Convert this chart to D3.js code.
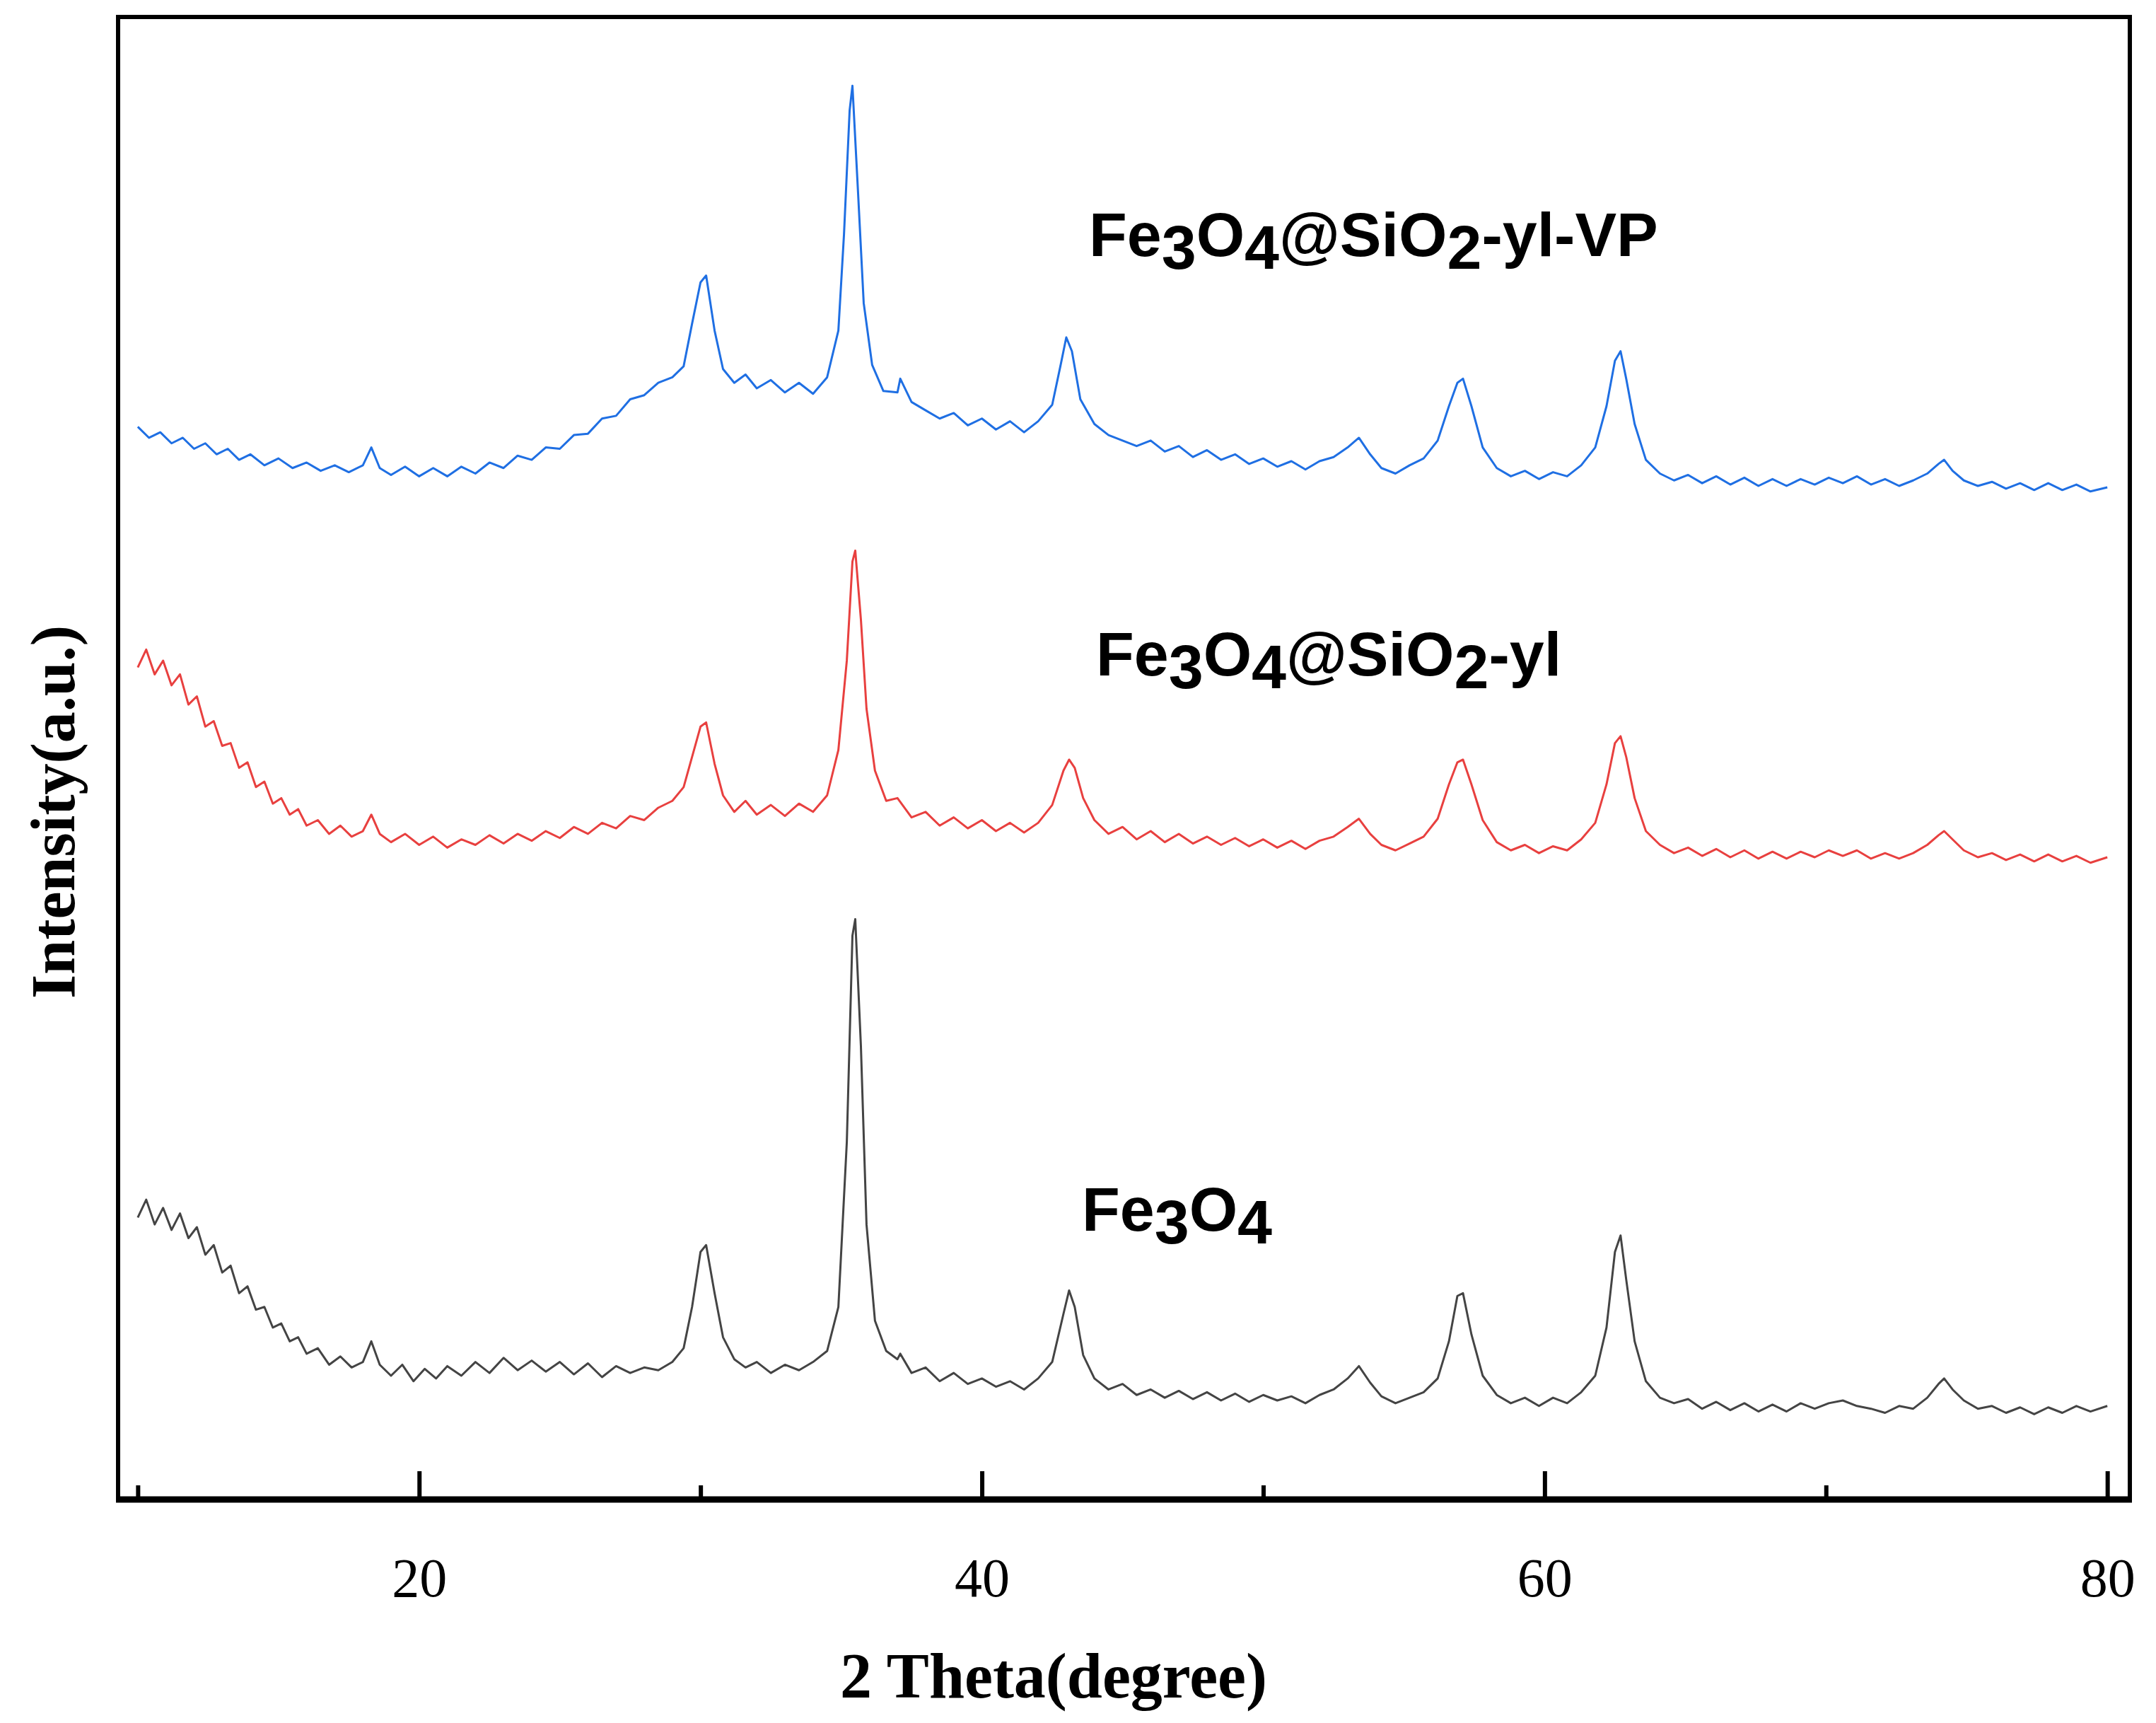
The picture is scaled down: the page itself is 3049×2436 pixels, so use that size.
<!DOCTYPE html>
<html><head><meta charset="utf-8">
<script src="https://cdn.jsdelivr.net/npm/d3@7"></script>
<style>body{margin:0;background:#fff}</style></head>
<body><svg id="c" width="3049" height="2436"></svg>
<script>
const xTicksMajor=[20,40,60,80];
const xTicksMinor=[10,30,50,70];
const fe3o4=[[10,205],[10.3,218],[10.6,200],[10.9,212],[11.2,196],[11.5,208],[11.8,190],[12.1,198],[12.4,178],[12.7,185],[13,165],[13.3,170],[13.6,150],[13.9,155],[14.2,138],[14.5,140],[14.8,125],[15.1,128],[15.4,115],[15.7,118],[16,106],[16.4,110],[16.8,98],[17.2,104],[17.6,96],[18,100],[18.3,115],[18.6,98],[19,90],[19.4,98],[19.8,86],[20.2,95],[20.6,88],[21,97],[21.5,90],[22,100],[22.5,92],[23,103],[23.5,94],[24,101],[24.5,93],[25,100],[25.5,91],[26,99],[26.5,89],[27,97],[27.5,92],[28,96],[28.5,94],[29,100],[29.4,110],[29.7,140],[30,180],[30.2,185],[30.5,150],[30.8,118],[31.2,102],[31.6,96],[32,100],[32.5,92],[33,98],[33.5,94],[34,100],[34.5,108],[34.9,140],[35.2,260],[35.4,410],[35.5,422],[35.7,330],[35.9,200],[36.2,130],[36.6,108],[37,102],[37.1,106],[37.5,92],[38,96],[38.5,86],[39,92],[39.5,84],[40,88],[40.5,82],[41,86],[41.5,80],[42,88],[42.5,100],[42.9,135],[43.1,152],[43.3,140],[43.6,105],[44,88],[44.5,80],[45,84],[45.5,76],[46,80],[46.5,74],[47,79],[47.5,73],[48,78],[48.5,72],[49,77],[49.5,71],[50,76],[50.5,72],[51,75],[51.5,70],[52,76],[52.5,80],[53,88],[53.4,97],[53.8,85],[54.2,75],[54.7,70],[55.2,74],[55.7,78],[56.2,88],[56.6,115],[56.9,148],[57.1,150],[57.4,120],[57.8,90],[58.3,76],[58.8,70],[59.3,74],[59.8,68],[60.3,74],[60.8,70],[61.3,78],[61.8,90],[62.2,125],[62.5,180],[62.7,192],[62.9,160],[63.2,115],[63.6,86],[64.1,74],[64.6,70],[65.1,73],[65.6,66],[66.1,71],[66.6,65],[67.1,70],[67.6,64],[68.1,69],[68.6,64],[69.1,70],[69.6,66],[70.1,70],[70.6,72],[71.1,68],[71.6,66],[72.1,63],[72.6,68],[73.1,66],[73.6,74],[74,84],[74.2,88],[74.5,80],[74.9,72],[75.4,66],[75.9,68],[76.4,63],[76.9,67],[77.4,62],[77.9,67],[78.4,63],[78.9,68],[79.4,64],[80,68]];
const fe3o4SiO2yl=[[10,605],[10.3,618],[10.6,600],[10.9,610],[11.2,592],[11.5,600],[11.8,578],[12.1,584],[12.4,562],[12.7,566],[13,548],[13.3,550],[13.6,532],[13.9,536],[14.2,518],[14.5,522],[14.8,506],[15.1,510],[15.4,498],[15.7,502],[16,490],[16.4,494],[16.8,484],[17.2,490],[17.6,482],[18,486],[18.3,498],[18.6,484],[19,478],[19.5,484],[20,476],[20.5,482],[21,474],[21.5,480],[22,476],[22.5,483],[23,477],[23.5,484],[24,479],[24.5,486],[25,481],[25.5,489],[26,484],[26.5,492],[27,488],[27.5,497],[28,494],[28.5,503],[29,508],[29.4,518],[29.7,540],[30,562],[30.2,565],[30.5,535],[30.8,512],[31.2,500],[31.6,508],[32,498],[32.5,505],[33,497],[33.5,506],[34,500],[34.5,512],[34.9,545],[35.2,610],[35.4,682],[35.5,690],[35.7,640],[35.9,575],[36.2,530],[36.6,508],[37,510],[37.5,496],[38,500],[38.5,490],[39,496],[39.5,488],[40,494],[40.5,486],[41,492],[41.5,485],[42,492],[42.5,505],[42.9,530],[43.1,538],[43.3,532],[43.6,510],[44,494],[44.5,484],[45,489],[45.5,480],[46,486],[46.5,478],[47,484],[47.5,477],[48,482],[48.5,476],[49,481],[49.5,475],[50,480],[50.5,474],[51,479],[51.5,473],[52,479],[52.5,482],[53,489],[53.4,495],[53.8,484],[54.2,476],[54.7,472],[55.2,477],[55.7,482],[56.2,495],[56.6,520],[56.9,536],[57.1,538],[57.4,520],[57.8,494],[58.3,478],[58.8,472],[59.3,476],[59.8,470],[60.3,475],[60.8,472],[61.3,480],[61.8,492],[62.2,520],[62.5,550],[62.7,555],[62.9,540],[63.2,510],[63.6,486],[64.1,476],[64.6,470],[65.1,474],[65.6,468],[66.1,473],[66.6,467],[67.1,472],[67.6,466],[68.1,471],[68.6,466],[69.1,471],[69.6,467],[70.1,472],[70.6,468],[71.1,472],[71.6,466],[72.1,470],[72.6,466],[73.1,470],[73.6,476],[74,483],[74.2,486],[74.5,480],[74.9,472],[75.4,467],[75.9,470],[76.4,465],[76.9,469],[77.4,464],[77.9,469],[78.4,464],[78.9,468],[79.4,463],[80,467]];
const fe3o4SiO2ylVP=[[10,780],[10.4,772],[10.8,776],[11.2,768],[11.6,772],[12,764],[12.4,768],[12.8,760],[13.2,764],[13.6,756],[14,760],[14.5,752],[15,757],[15.5,750],[16,754],[16.5,748],[17,752],[17.5,747],[18,752],[18.3,765],[18.6,750],[19,745],[19.5,751],[20,744],[20.5,750],[21,744],[21.5,751],[22,746],[22.5,754],[23,750],[23.5,759],[24,756],[24.5,765],[25,764],[25.5,774],[26,775],[26.5,786],[27,788],[27.5,800],[28,803],[28.5,812],[29,816],[29.4,824],[29.7,855],[30,885],[30.2,890],[30.5,850],[30.8,822],[31.2,812],[31.6,818],[32,808],[32.5,814],[33,805],[33.5,812],[34,804],[34.5,816],[34.9,850],[35.1,920],[35.3,1010],[35.4,1028],[35.6,950],[35.8,870],[36.1,825],[36.5,806],[37,805],[37.1,815],[37.5,798],[38,792],[38.5,786],[39,790],[39.5,781],[40,786],[40.5,778],[41,784],[41.5,776],[42,784],[42.5,796],[42.8,825],[43,845],[43.2,835],[43.5,800],[44,782],[44.5,774],[45,770],[45.5,766],[46,770],[46.5,762],[47,766],[47.5,758],[48,763],[48.5,756],[49,760],[49.5,753],[50,757],[50.5,751],[51,755],[51.5,749],[52,755],[52.5,758],[53,765],[53.4,772],[53.8,760],[54.2,750],[54.7,746],[55.2,752],[55.7,757],[56.2,770],[56.6,795],[56.9,812],[57.1,815],[57.4,795],[57.8,765],[58.3,750],[58.8,744],[59.3,748],[59.8,742],[60.3,747],[60.8,744],[61.3,752],[61.8,765],[62.2,795],[62.5,828],[62.7,835],[62.9,815],[63.2,782],[63.6,756],[64.1,746],[64.6,741],[65.1,745],[65.6,739],[66.1,744],[66.6,738],[67.1,743],[67.6,737],[68.1,742],[68.6,737],[69.1,742],[69.6,738],[70.1,743],[70.6,739],[71.1,744],[71.6,738],[72.1,742],[72.6,737],[73.1,741],[73.6,746],[74,753],[74.2,756],[74.5,748],[74.9,741],[75.4,737],[75.9,740],[76.4,735],[76.9,739],[77.4,734],[77.9,739],[78.4,734],[78.9,738],[79.4,733],[80,736]];
const seriesNames=[["Fe","3","O","4","@SiO","2","-yl-VP"],["Fe","3","O","4","@SiO","2","-yl"],["Fe","3","O","4"]];
const seriesColors=["#1f6fe3","#e8403f","#444444"];

const L=167,R=3012,T=24,B=2120;
const svg=d3.select("#c");
const x=d3.scaleLinear().domain([9.3,80.8]).range([L,R]);
const y=d3.scaleLinear().domain([0,1078]).range([B,T]);
const line=d3.line().x(d=>x(d[0])).y(d=>y(d[1]));
[fe3o4SiO2ylVP,fe3o4SiO2yl,fe3o4].forEach((s,i)=>{
  svg.append("path").datum(s).attr("d",line).attr("fill","none")
    .attr("stroke",seriesColors[i]).attr("stroke-width",3).attr("stroke-linejoin","round");
});
svg.append("rect").attr("x",L).attr("y",T).attr("width",R-L).attr("height",B-T)
  .attr("fill","none").attr("stroke","#000").attr("stroke-width",6);
svg.append("line").attr("x1",L-3).attr("x2",R+3).attr("y1",B).attr("y2",B).attr("stroke","#000").attr("stroke-width",9);
const ax=svg.append("g").attr("transform",`translate(0,${B})`)
  .call(d3.axisBottom(x).tickValues(xTicksMajor).tickSize(-40).tickPadding(82).tickFormat(d3.format("d")));
ax.select(".domain").remove();
ax.selectAll("line").attr("stroke-width",6);
ax.selectAll("text").attr("font-family","Liberation Serif").attr("font-size",78).attr("fill","#000");
const am=svg.append("g").attr("transform",`translate(0,${B})`)
  .call(d3.axisBottom(x).tickValues(xTicksMinor).tickSize(-20).tickFormat(""));
am.select(".domain").remove();
am.selectAll("line").attr("stroke-width",6);

svg.append("text").attr("x",1490).attr("y",2400).attr("text-anchor","middle")
  .attr("font-family","Liberation Serif").attr("font-weight","bold").attr("font-size",90).text("2 Theta(degree)");
svg.append("text").attr("transform","translate(105,1148) rotate(-90)").attr("text-anchor","middle")
  .attr("font-family","Liberation Serif").attr("font-weight","bold").attr("font-size",88).text("Intensity(a.u.)");

const labelPos=[[1540,362],[1550,955],[1530,1740]];
seriesNames.forEach((parts,i)=>{
  const t=svg.append("text").attr("x",labelPos[i][0]).attr("y",labelPos[i][1])
    .attr("font-family","Liberation Sans").attr("font-weight","bold").attr("font-size",88).attr("fill","#000");
  parts.forEach((p,j)=>{
    const sub=/^\d$/.test(p);
    t.append("tspan").attr("dy",sub?18:(j>0?-18:0)).text(p);
  });
});
</script></body></html>
